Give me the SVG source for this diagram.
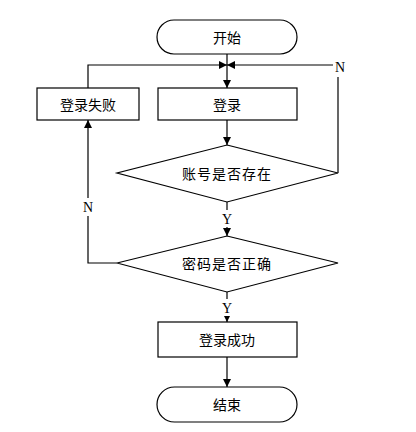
<svg xmlns="http://www.w3.org/2000/svg" width="416" height="432" viewBox="0 0 416 432">
<style>
.s{fill:#fff;stroke:#000;stroke-width:1.2}
.t{font-family:"Noto Sans CJK SC","Noto Sans CJK JP",sans-serif;font-size:14px;fill:#000;text-anchor:middle;dominant-baseline:central}
.l{font-family:"Liberation Serif",serif;font-size:14px;fill:#000;text-anchor:middle;dominant-baseline:central}
.c{fill:none;stroke:#000;stroke-width:1.2}
</style>
<defs>
<marker id="a" viewBox="0 0 10 10" refX="10" refY="5" markerWidth="8" markerHeight="8" markerUnits="userSpaceOnUse" orient="auto">
<path d="M0,0 L10,5 L0,10 z" fill="#000"/>
</marker>
</defs>
<rect width="416" height="432" fill="#fff"/>
<g id="connectors">
<path class="c" d="M227,54 V88" marker-end="url(#a)"/>
<path class="c" d="M88,88 V65 H227" marker-end="url(#a)"/>
<path class="c" d="M338,173 V77"/>
<path class="c" d="M333,65 H227" marker-end="url(#a)"/>
<path class="c" d="M227,120 V145" marker-end="url(#a)"/>
<path class="c" d="M227,202 V236" marker-end="url(#a)"/>
<path class="c" d="M117,263 H88 V120" marker-end="url(#a)"/>
<path class="c" d="M227,292 V322" marker-end="url(#a)"/>
<path class="c" d="M227,357 V387" marker-end="url(#a)"/>
<rect x="80" y="198" width="16" height="18" fill="#fff"/>
<text class="l" x="88" y="207">N</text>
<text class="l" x="340" y="67">N</text>
<rect x="220" y="210" width="14" height="17" fill="#fff"/>
<text class="l" x="227" y="219">Y</text>
<rect x="220" y="299" width="14" height="17" fill="#fff"/>
<text class="l" x="227" y="308">Y</text>
</g>
<g id="start">
<rect class="s" x="157" y="20" width="140" height="34" rx="17"/>
<text class="t" x="227" y="37">开始</text>
</g>
<g id="fail">
<rect class="s" x="37" y="88" width="102" height="32"/>
<text class="t" x="88" y="104">登录失败</text>
</g>
<g id="login">
<rect class="s" x="158" y="88" width="139" height="32"/>
<text class="t" x="227" y="104">登录</text>
</g>
<g id="account">
<polygon class="s" points="227,145 338,173 227,202 117,173"/>
<text class="t" x="227" y="173" letter-spacing="1">账号是否存在</text>
</g>
<g id="password">
<polygon class="s" points="227,236 338,263 227,292 117,263"/>
<text class="t" x="227" y="263" letter-spacing="1">密码是否正确</text>
</g>
<g id="success">
<rect class="s" x="158" y="322" width="139" height="35"/>
<text class="t" x="227" y="339">登录成功</text>
</g>
<g id="end">
<rect class="s" x="157" y="387" width="140" height="35" rx="17.5"/>
<text class="t" x="227" y="404">结束</text>
</g>
</svg>
